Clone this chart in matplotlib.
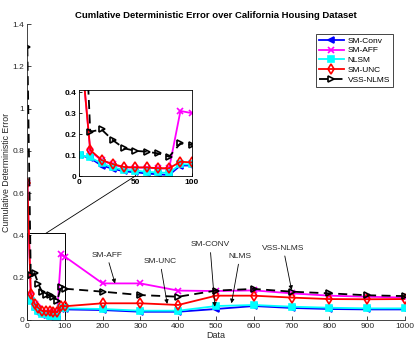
import numpy as np
import matplotlib
matplotlib.use('Agg')
import matplotlib.pyplot as plt
from matplotlib.patches import Rectangle, ConnectionPatch

plt.rcParams['font.family'] = ['Liberation Sans', 'DejaVu Sans']

x_data = [1, 10, 20, 30, 40, 50, 60, 70, 80, 90, 100,
          200, 300, 400, 500, 600, 700, 800, 900, 1000]
sm_conv = [0.10, 0.085, 0.05, 0.035, 0.022, 0.018, 0.012, 0.008, 0.005, 0.05, 0.05,
           0.047, 0.039, 0.039, 0.052, 0.066, 0.057, 0.052, 0.050, 0.050]
sm_aff = [0.65, 0.12, 0.074, 0.055, 0.04, 0.04, 0.04, 0.036, 0.036, 0.31, 0.30,
          0.173, 0.173, 0.139, 0.137, 0.14, 0.126, 0.115, 0.11, 0.106]
nlsm = [0.10, 0.089, 0.06, 0.041, 0.029, 0.026, 0.02, 0.017, 0.015, 0.056, 0.055,
        0.052, 0.044, 0.044, 0.066, 0.071, 0.063, 0.058, 0.055, 0.055]
sm_unc = [0.65, 0.124, 0.076, 0.057, 0.043, 0.041, 0.041, 0.037, 0.037, 0.068, 0.065,
          0.079, 0.079, 0.071, 0.115, 0.115, 0.106, 0.099, 0.098, 0.099]
vss_nlms = [1.29, 0.211, 0.222, 0.171, 0.132, 0.12, 0.116, 0.108, 0.092, 0.156, 0.148,
            0.134, 0.118, 0.11, 0.139, 0.147, 0.134, 0.126, 0.117, 0.113]

names = ['SM-Conv', 'SM-AFF', 'NLSM', 'SM-UNC', 'VSS-NLMS']
series = [sm_conv, sm_aff, nlsm, sm_unc, vss_nlms]
styles = [dict(color='#0000ff', marker='<', ls='-', mfc='#0000ff'),
          dict(color='#ff00ff', marker='x', ls='-', mfc='#ff00ff'),
          dict(color='#00ffff', marker='s', ls='-', mfc='#00ffff'),
          dict(color='#ff0000', marker='d', ls='-', mfc='none'),
          dict(color='k', marker='>', ls=(0, (5, 3)), mfc='none')]

# annotation text: (label, text x, text y, tip x, tip y)
notes = [('SM-AFF', 211, 0.307, 233, 0.173),
         ('SM-UNC', 352, 0.276, 371, 0.076),
         ('SM-CONV', 484, 0.355, 497, 0.063),
         ('NLMS', 563, 0.30, 541, 0.079),
         ('VSS-NLMS', 678, 0.339, 700, 0.142)]

grey = '#262626'
fig = plt.figure(figsize=(4.19, 3.53), dpi=100)
ax = fig.add_axes([0.0644, 0.0935, 0.9022, 0.8385])

for nm, ys, st in zip(names, series, styles):
    ax.plot(x_data, ys, label=nm, lw=1.3, ms=5, mew=1.2, **st)

ax.set_xlim(0, 1000)
ax.set_ylim(0, 1.4)
ax.set_xticks(np.arange(0, 1001, 100))
ax.set_yticks([0, 0.2, 0.4, 0.6, 0.8, 1, 1.2, 1.4])
ax.set_yticklabels(['0', '0.2', '0.4', '0.6', '0.8', '1', '1.2', '1.4'])
ax.spines['top'].set_visible(False)
ax.spines['right'].set_visible(False)
for s in ax.spines.values():
    s.set_linewidth(0.6)
    s.set_color(grey)
ax.tick_params(direction='in', labelsize=6, colors=grey, length=3, width=0.6, pad=2)
ax.set_xlabel('Data', fontsize=6.5, color=grey, labelpad=1)
ax.set_ylabel('Cumulative Deterministic Error', fontsize=6.3, color=grey, labelpad=1)
ax.set_title('Cumlative Deterministic Error over California Housing Dataset',
             fontsize=6.8, fontweight='bold', pad=4)

leg = ax.legend(loc='upper right', bbox_to_anchor=(0.947, 0.915),
                bbox_transform=fig.transFigure, fontsize=6, fancybox=False,
                framealpha=1, edgecolor=grey, handlelength=3, borderpad=0.3,
                labelspacing=0.25, handletextpad=0.5)
leg.get_frame().set_linewidth(0.6)

for lab, tx, ty, px, py in notes:
    ax.annotate(lab, xy=(px, py), xytext=(tx, ty), fontsize=6, color=grey,
                ha='center', va='center',
                arrowprops=dict(arrowstyle='-|>', color='k', lw=0.6,
                                mutation_scale=6, shrinkA=1, shrinkB=0))

ax.add_patch(Rectangle((0, 0), 100, 0.41, fill=False, ec='k', lw=0.7))

# zoomed inset
ins = fig.add_axes([0.1885, 0.5014, 0.269, 0.2436])
for nm, ys, st in zip(names, series, styles):
    ins.plot(x_data, ys, lw=1.3, ms=5, mew=1.2, **st)
ins.set_xlim(0, 100)
ins.set_ylim(0, 0.41)
ins.set_xticks([0, 50, 100])
ins.set_yticks([0, 0.1, 0.2, 0.3, 0.4])
ins.set_yticklabels(['0', '0.1', '0.2', '0.3', '0.4'])
ins.tick_params(direction='in', labelsize=6, length=2, width=0.6, pad=2)
for t in ins.get_xticklabels() + ins.get_yticklabels():
    t.set_fontweight('bold')
for s in ins.spines.values():
    s.set_linewidth(0.6)

con = ConnectionPatch(xyA=(50, 0.41), coordsA=ax.transData,
                      xyB=(50, 0), coordsB=ins.transData, color='k', lw=0.6)
fig.add_artist(con)

fig.savefig('out.png', dpi=100)
